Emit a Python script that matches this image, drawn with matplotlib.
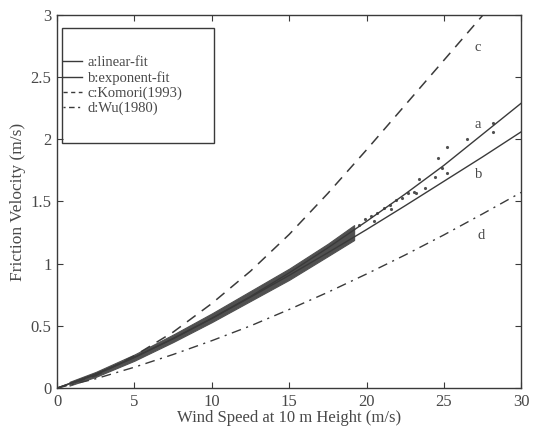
import numpy as np
import matplotlib
matplotlib.use("Agg")
from matplotlib import pyplot as plt
from matplotlib.patches import Rectangle
from matplotlib.lines import Line2D

plt.rcParams['font.family'] = ['Liberation Serif', 'DejaVu Serif']

# wind speed grid used for the curves (m/s)
wind = [0, 2.5, 5, 7.5, 10, 12.5, 15, 17.5, 20, 22.5, 25, 27.5, 30]

# a: linear-fit, b: exponent-fit, d: Wu(1980)
linear_fit = [0, 0.115, 0.248, 0.397, 0.56, 0.736, 0.926, 1.127, 1.34, 1.56, 1.79, 2.04, 2.29]
exponent_fit = [0, 0.108, 0.246, 0.398, 0.56, 0.731, 0.906, 1.088, 1.274, 1.466, 1.662, 1.858, 2.06]
wu_1980 = [0, 0.075, 0.168, 0.27, 0.381, 0.50, 0.632, 0.77, 0.917, 1.07, 1.231, 1.40, 1.573]

# c: Komori(1993), runs off the top near 28 m/s
komori_x = [0, 2.5, 5, 7.5, 10, 12.5, 15, 17.5, 20, 22.5, 25, 27.5, 28.5]
komori_y = [0, 0.10, 0.26, 0.45, 0.68, 0.94, 1.235, 1.565, 1.915, 2.275, 2.635, 2.995, 3.14]

# dense measurement band (lower / upper edge)
band_x = [0.8, 2.5, 5, 7.5, 10, 12.5, 15, 17.5, 19.2]
band_lo = [0.02, 0.09, 0.22, 0.37, 0.53, 0.70, 0.87, 1.06, 1.19]
band_hi = [0.05, 0.13, 0.27, 0.43, 0.60, 0.78, 0.96, 1.16, 1.31]

# sparse measurements at high wind speed
pts_x = [19.5, 19.9, 20.3, 20.7, 21.1, 21.5, 21.9, 22.3, 22.7, 23.1, 20.5, 21.6,
         23.2, 23.4, 23.8, 24.4, 24.6, 24.9, 25.2, 25.2, 26.5, 28.2, 28.2]
pts_y = [1.31, 1.36, 1.38, 1.41, 1.45, 1.47, 1.51, 1.53, 1.57, 1.58, 1.34, 1.44,
         1.57, 1.68, 1.61, 1.70, 1.85, 1.77, 1.94, 1.73, 2.00, 2.13, 2.06]

# curve labels
lab_txt = ['a', 'b', 'c', 'd']
lab_x = [27.0, 27.0, 27.0, 27.2]
lab_y = [2.12, 1.72, 2.74, 1.23]

col = '#3a3a3a'
tcol = '#484848'

fig = plt.figure(figsize=(5.34, 4.38), dpi=100)
ax = fig.add_axes([0.107, 0.114, 0.869, 0.852])

ax.fill_between(band_x, band_lo, band_hi, color='#505050', lw=0.8)
ax.plot(pts_x, pts_y, '.', color='#505050', ms=2.5)

ax.plot(wind, linear_fit, '-', color=col, lw=1.0)
ax.plot(wind, exponent_fit, '-', color=col, lw=1.0)
ax.plot(komori_x, komori_y, color=col, lw=1.1, dashes=(7, 5))
ax.plot(wind, wu_1980, color=col, lw=1.0, dashes=(7, 4, 1.5, 4))

for t, x, y in zip(lab_txt, lab_x, lab_y):
    ax.text(x, y, t, fontsize=10.5, color=tcol, ha='left', va='center')

ax.set_xlim(0, 30)
ax.set_ylim(0, 3)
ax.set_xticks([0, 5, 10, 15, 20, 25, 30])
ax.set_yticks([0, 0.5, 1, 1.5, 2, 2.5, 3])
ax.set_yticklabels(['0', '0.5', '1', '1.5', '2', '2.5', '3'])
ax.tick_params(direction='in', top=True, right=True, length=4, width=0.8,
               labelsize=12, colors=col, labelcolor=tcol, pad=4)
for s in ax.spines.values():
    s.set_color(col)
    s.set_linewidth(1.0)

ax.set_xlabel('Wind Speed at 10 m Height (m/s)', fontsize=12, color=tcol, labelpad=0)
ax.set_ylabel('Friction Velocity (m/s)', fontsize=12.5, color=tcol, labelpad=3)

# legend box drawn by hand (tall frame, entries in the middle)
ax.add_patch(Rectangle((0.011, 0.658), 0.326, 0.307, transform=ax.transAxes,
                       fill=False, ec=col, lw=1.0, zorder=5))
handles = [Line2D([], [], color=col, lw=1.0),
           Line2D([], [], color=col, lw=1.0),
           Line2D([], [], color=col, lw=1.0, dashes=(3, 2.5)),
           Line2D([], [], color=col, lw=1.0, dashes=(1.5, 2.5, 4, 2.5))]
names = ['a:linear-fit', 'b:exponent-fit', 'c:Komori(1993)', 'd:Wu(1980)']
leg = ax.legend(handles, names, loc='upper left', bbox_to_anchor=(0.012, 0.89),
                frameon=False, fontsize=10.5, handlelength=1.3, handletextpad=0.4,
                labelspacing=0.12, borderpad=0, borderaxespad=0)
for t in leg.get_texts():
    t.set_color(tcol)

fig.savefig('out.png', dpi=100)
